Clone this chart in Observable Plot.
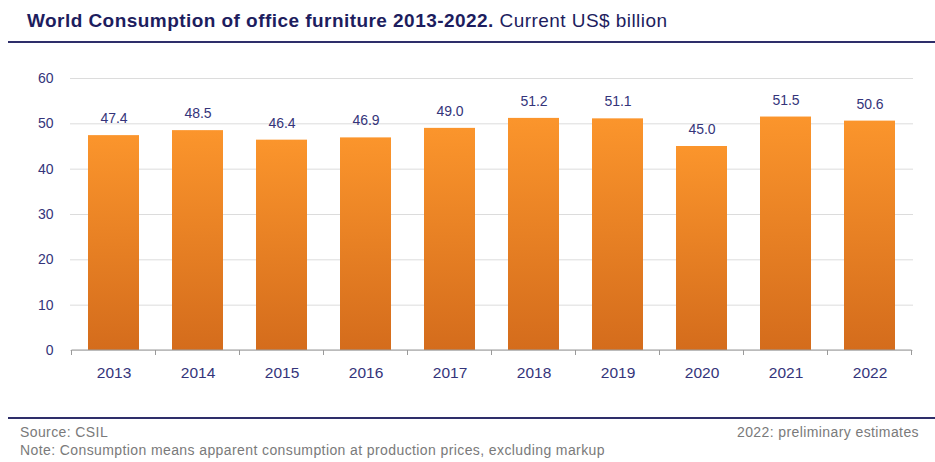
<!DOCTYPE html>
<html>
<head>
<meta charset="utf-8">
<script src="https://cdn.jsdelivr.net/npm/d3@7"></script>
<script src="https://cdn.jsdelivr.net/npm/@observablehq/plot@0.6"></script>
<style>
  body { margin: 0; background: #fff; font-family: "Liberation Sans", Arial, sans-serif; }
  #wrap { position: relative; width: 935px; height: 462px; overflow: hidden; }
  #title { position: absolute; left: 27px; top: 10px; font-size: 19px; color: #1d1d5e; white-space: nowrap; letter-spacing: 0.45px; }
  #title b { font-weight: bold; }
  .hr { position: absolute; left: 8px; right: 0; height: 2px; background: #2e2e6a; }
  #chart { position: absolute; left: 0; top: 50px; }
  .foot { position: absolute; font-size: 14px; color: #7a7a7a; white-space: nowrap; letter-spacing: 0.4px; }
</style>
</head>
<body>
<div id="wrap">
  <div id="title"><b>World Consumption of office furniture 2013-2022.</b> Current US$ billion</div>
  <div class="hr" style="top:41px"></div>
  <div id="chart"></div>
  <div class="hr" style="top:417px"></div>
  <div class="foot" style="left:20px; top:424px">Source: CSIL</div>
  <div class="foot" style="left:20px; top:442px">Note: Consumption means apparent consumption at production prices, excluding markup</div>
  <div class="foot" style="right:16px; top:424px">2022: preliminary estimates</div>
</div>
<script>
const years = ["2013","2014","2015","2016","2017","2018","2019","2020","2021","2022"];
const values = [47.4, 48.5, 46.4, 46.9, 49.0, 51.2, 51.1, 45.0, 51.5, 50.6];
const yTicks = [0, 10, 20, 30, 40, 50, 60];

const data = years.map((year, i) => ({year, value: values[i]}));
const navy = "#34347a";

// tick marks at category boundaries, derived from the band scale
function boundaryTicks(index, scales, vals, dims) {
  const x = scales.x, y = scales.y;
  const bw = typeof x.bandwidth === "function" ? x.bandwidth() : x.bandwidth;
  const step = x(years[1]) - x(years[0]);
  const gap = (step - bw) / 2;
  const xs = years.map(d => x(d) - gap);
  xs.push(x(years[years.length - 1]) + bw + gap);
  const g = d3.create("svg:g");
  const y0 = y(0);
  g.selectAll("line.t").data(xs).join("line").attr("class", "t")
    .attr("x1", d => d).attr("x2", d => d)
    .attr("y1", y0).attr("y2", y0 + 5)
    .attr("stroke", "#9a9a9a").attr("stroke-width", 1);
  g.append("line")
    .attr("x1", xs[0]).attr("x2", xs[xs.length - 1])
    .attr("y1", y0).attr("y2", y0)
    .attr("stroke", "#9a9a9a").attr("stroke-width", 1);
  return g.node();
}

const plot = Plot.plot({
  width: 935,
  height: 345,
  marginLeft: 70,
  marginRight: 22,
  marginTop: 28,
  marginBottom: 45,
  style: { fontFamily: "Liberation Sans, Arial, sans-serif", background: "transparent" },
  x: { domain: years, paddingInner: 0.39, paddingOuter: 0.195, label: null },
  y: { domain: [0, 60], label: null },
  marks: [
    Plot.gridY(yTicks, { stroke: "#dcdcdc", strokeOpacity: 1 }),
    Plot.barY(data, { x: "year", y: "value", fill: "url(#barGrad)" }),
    Plot.text(data, { x: "year", y: "value", text: d => d.value.toFixed(1), dy: -17, fill: navy, fontSize: 14 }),
    boundaryTicks,
    Plot.axisY(yTicks, { tickSize: 0, tickPadding: 17, fontSize: 14, color: navy, label: null }),
    Plot.axisX({ tickSize: 0, tickPadding: 16, fontSize: 15.5, color: navy, label: null })
  ]
});

const svg = d3.select(plot);
const defs = svg.insert("defs", ":first-child");
const grad = defs.append("linearGradient").attr("id", "barGrad")
  .attr("x1", 0).attr("y1", 0).attr("x2", 0).attr("y2", 1);
grad.append("stop").attr("offset", "0%").attr("stop-color", "#fb952c");
grad.append("stop").attr("offset", "100%").attr("stop-color", "#d46c1c");

document.getElementById("chart").appendChild(plot);
</script>
</body>
</html>
